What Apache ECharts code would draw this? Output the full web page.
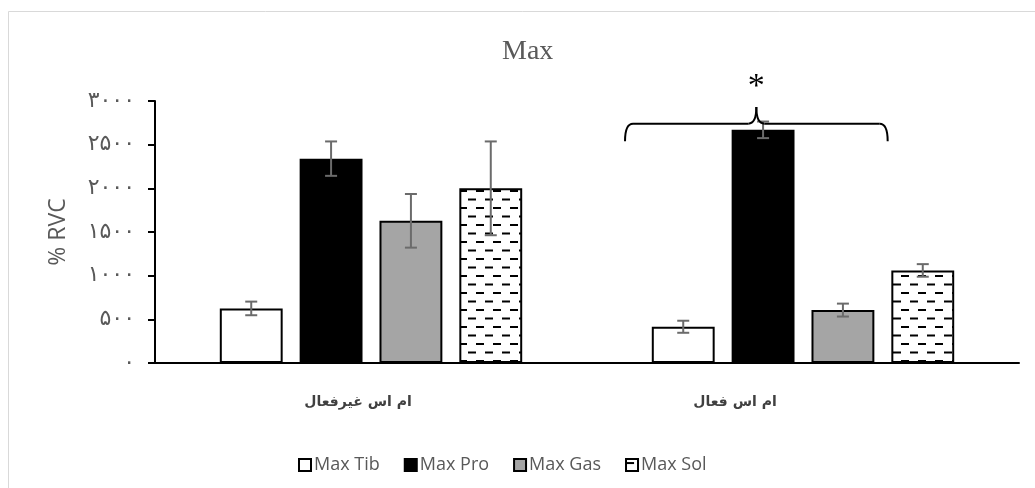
<!DOCTYPE html>
<html>
<head>
<meta charset="utf-8">
<script src="https://cdn.jsdelivr.net/npm/echarts@6/dist/echarts.min.js"></script>
<style>
  html, body { margin: 0; padding: 0; background: #fff; }
  #chart { width: 1035px; height: 488px; }
</style>
</head>
<body>
<div id="chart"></div>
<script>
// Group names (x categories)
const categories = ['ام اس غیرفعال', 'ام اس فعال'];
// Series names
const seriesNames = ['Max Tib', 'Max Pro', 'Max Gas', 'Max Sol'];
// Mean values per group
const maxTib = [625, 415];
const maxPro = [2340, 2670];
const maxGas = [1628, 606];
const maxSol = [2000, 1060];
// Standard errors per group
const errTib = [78, 69];
const errPro = [197, 95];
const errGas = [307, 74];
const errSol = [537, 72];
// Y axis range
const yMin = 0, yMax = 3000, yStep = 500;

const persianDigits = '۰۱۲۳۴۵۶۷۸۹';
const toPersian = v => String(v).replace(/[0-9]/g, d => persianDigits[+d]);

// Dashed horizontal fill used by the Sol bars
function dashPattern() {
  const c = document.createElement('canvas');
  c.width = 17; c.height = 17;
  const g = c.getContext('2d');
  g.fillStyle = '#fff';
  g.fillRect(0, 0, 17, 17);
  g.fillStyle = '#000';
  g.fillRect(0, 3, 8, 2);
  g.fillRect(9, 11.5, 8, 2);
  return c;
}

const barCatGap = 0.30, barGap = 0.27;
const nBars = seriesNames.length;

const means = [maxTib, maxPro, maxGas, maxSol];
const errs = [errTib, errPro, errGas, errSol];
const errData = [];
means.forEach((arr, s) => arr.forEach((v, c) => {
  errData.push([c, s, v - errs[s][c], v + errs[s][c]]);
}));

const fills = ['#ffffff', '#000000', '#a5a5a5', { image: dashPattern(), repeat: 'repeat' }];

const barSeries = seriesNames.map((name, s) => ({
  name,
  type: 'bar',
  data: means[s],
  barCategoryGap: '30%',
  barGap: '27%',
  itemStyle: { color: fills[s], borderColor: '#000', borderWidth: 2 },
  emphasis: { disabled: true },
  z: 2
}));

const chart = echarts.init(document.getElementById('chart'), null, { renderer: 'canvas' });

const option = {
  backgroundColor: '#fff',
  animation: false,
  title: {
    text: 'Max',
    left: 497,
    top: 33,
    textStyle: { fontFamily: 'Liberation Serif', fontSize: 28, fontWeight: 'normal', color: '#595959' }
  },
  legend: {
    data: seriesNames,
    icon: 'rect',
    left: 293,
    top: 451,
    itemWidth: 12,
    itemHeight: 12,
    itemGap: 24,
    textStyle: { fontFamily: 'Open Sans', fontSize: 18, color: '#595959', padding: [0, 0, 0, -2] }
  },
  grid: { left: 155, right: 16, top: 101, bottom: 125 },
  xAxis: {
    type: 'category',
    data: categories,
    axisLine: { lineStyle: { color: '#000', width: 2 } },
    axisTick: { show: false },
    axisLabel: {
      margin: 32,
      formatter: (v, i) => i === 0 ? '{a|' + v + '}' : '{b|' + v + '}',
      rich: {
        a: { fontFamily: 'DejaVu Sans', fontWeight: 'bold', fontSize: 14, color: '#404040', padding: [0, 26, 0, 0] },
        b: { fontFamily: 'DejaVu Sans', fontWeight: 'bold', fontSize: 14, color: '#404040', padding: [0, 136, 0, 0] }
      }
    }
  },
  yAxis: {
    type: 'value',
    min: yMin,
    max: yMax,
    interval: yStep,
    name: '% RVC',
    nameLocation: 'middle',
    nameGap: 85,
    nameTextStyle: { fontFamily: 'Open Sans', fontSize: 23, color: '#595959' },
    axisLine: { show: true, lineStyle: { color: '#000', width: 2 } },
    axisTick: { show: true, length: 7, lineStyle: { color: '#000', width: 2 } },
    splitLine: { show: false },
    axisLabel: {
      margin: 20,
      formatter: v => toPersian(v),
      fontFamily: 'DejaVu Sans',
      fontSize: 22,
      color: '#595959'
    }
  },
  series: barSeries.concat([{
    type: 'custom',
    name: 'err',
    data: errData,
    z: 5,
    renderItem(params, api) {
      const c = api.value(0), s = api.value(1);
      const band = api.size([1, 0])[0];
      const usable = band * (1 - barCatGap);
      const bw = usable / (nBars + (nBars - 1) * barGap);
      const center = api.coord([c, 0])[0];
      const x = center - usable / 2 + bw / 2 + s * bw * (1 + barGap);
      const yLo = api.coord([c, api.value(2)])[1];
      const yHi = api.coord([c, api.value(3)])[1];
      const cap = 6;
      const st = { stroke: '#6b6b6b', lineWidth: 2 };
      return {
        type: 'group',
        children: [
          { type: 'line', shape: { x1: x, y1: yLo, x2: x, y2: yHi }, style: st },
          { type: 'line', shape: { x1: x - cap, y1: yHi, x2: x + cap, y2: yHi }, style: st },
          { type: 'line', shape: { x1: x - cap, y1: yLo, x2: x + cap, y2: yLo }, style: st }
        ]
      };
    }
  }])
};

chart.setOption(option);

// Significance brace over the second group, placed via the axis scales
const braceY = 2740, braceEndY = 2540, braceTipY = 2930;
const cx = chart.convertToPixel({ xAxisIndex: 0 }, 1);
const band = cx - chart.convertToPixel({ xAxisIndex: 0 }, 0);
const yb = chart.convertToPixel({ yAxisIndex: 0 }, braceY);
const ye = chart.convertToPixel({ yAxisIndex: 0 }, braceEndY);
const yt = chart.convertToPixel({ yAxisIndex: 0 }, braceTipY);
const xl = cx - band * 0.412, xr = cx + band * 0.196, xm = cx - band * 0.108;
const r = 8;
const bs = { fill: 'none', stroke: '#000', lineWidth: 2 };
const braceParts = [
  { type: 'bezierCurve', shape: { x1: xl, y1: ye, cpx1: xl, cpy1: yb, x2: xl + r, y2: yb } },
  { type: 'line', shape: { x1: xl + r, y1: yb, x2: xm - r, y2: yb } },
  { type: 'bezierCurve', shape: { x1: xm - r, y1: yb, cpx1: xm, cpy1: yb, x2: xm, y2: yt } },
  { type: 'bezierCurve', shape: { x1: xm, y1: yt, cpx1: xm, cpy1: yb, x2: xm + r, y2: yb } },
  { type: 'line', shape: { x1: xm + r, y1: yb, x2: xr - r, y2: yb } },
  { type: 'bezierCurve', shape: { x1: xr - r, y1: yb, cpx1: xr, cpy1: yb, x2: xr, y2: ye } }
].map(p => Object.assign(p, { style: bs, silent: true, z: 10 }));

chart.setOption({
  graphic: [
    { type: 'rect', shape: { x: 8.5, y: 11.5, width: 1100, height: 600 }, style: { fill: 'none', stroke: '#d9d9d9', lineWidth: 1 }, silent: true, z: 0 },
    ...braceParts,
    { type: 'text', x: xm, y: yt - 20, style: { text: '*', fontFamily: 'Liberation Serif', fontSize: 34, fill: '#000', align: 'center', verticalAlign: 'middle' }, silent: true, z: 10 }
  ]
});
</script>
</body>
</html>
